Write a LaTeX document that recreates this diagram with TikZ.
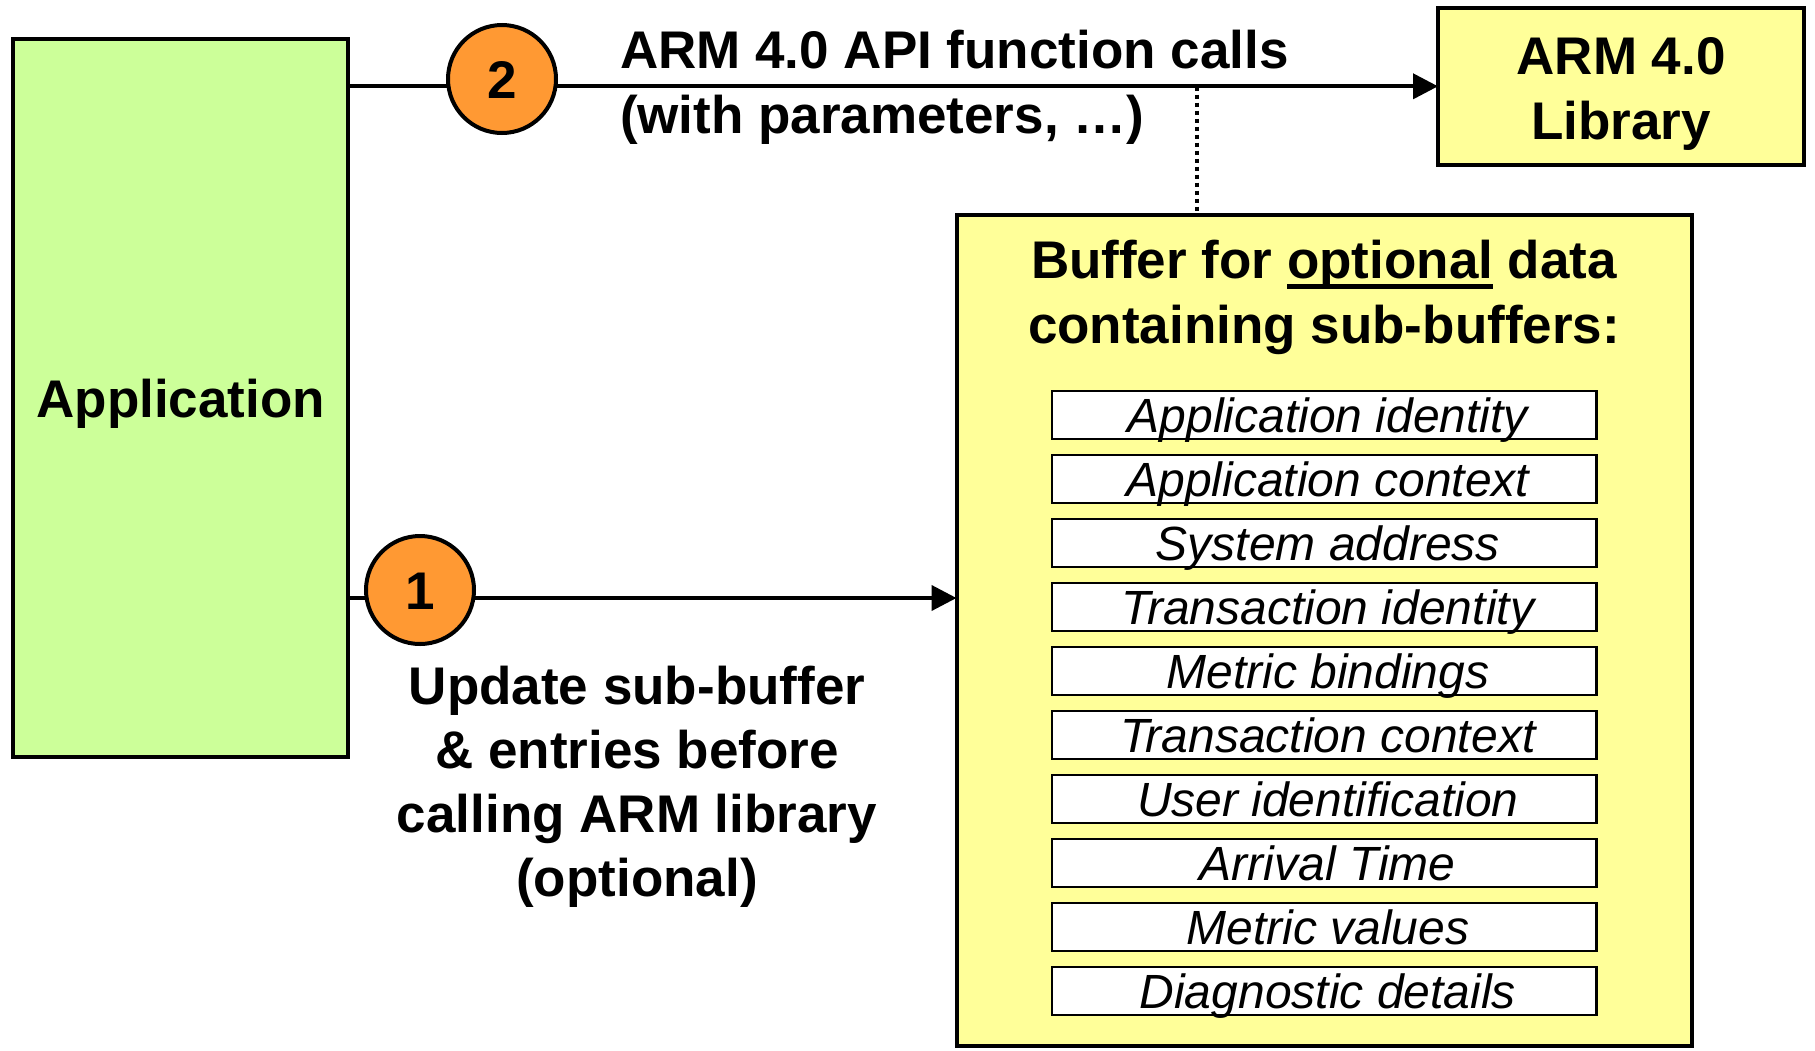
\documentclass[tikz,border=0pt]{standalone}
\usepackage{fontspec}
\setmainfont{Liberation Sans}
\usetikzlibrary{arrows.meta}
\definecolor{appgreen}{HTML}{CCFF99}
\definecolor{bufyellow}{HTML}{FFFF99}
\definecolor{steporange}{HTML}{FF9933}
% underline drawn as a rule just under the baseline
\newsavebox\ulbox
\newcommand\undl[1]{\sbox\ulbox{#1}\rlap{\rule[-0.2em]{\wd\ulbox}{0.08em}}\usebox\ulbox}
\begin{document}
\begin{tikzpicture}[x=0.5pt,y=-0.5pt,
  every node/.style={inner sep=0pt,outer sep=0pt},
  boldtext/.style={font=\fontsize{26.5pt}{32.5pt}\selectfont\bfseries},
  panel/.style={draw,rectangle,line width=2pt},
  subbuf/.style={draw,rectangle,line width=1.2pt,fill=white,
    minimum width=272.25pt,minimum height=24pt,
    font=\fontsize{24pt}{28pt}\selectfont\itshape,
    text height=17.2pt,text depth=0pt},
  badge/.style={draw,circle,line width=2pt,fill=steporange,minimum size=54pt,
    boldtext,text height=19pt,text depth=0pt},
  arr/.style={line width=2pt,-{Triangle[length=12.5pt,width=12.5pt]}},
  dotline/.style={line width=2pt,dash pattern=on 2pt off 2pt}]
\useasboundingbox (0,0) rectangle (1815,1050);

% main blocks
\node[panel,fill=appgreen,minimum width=167.3pt,minimum height=358.75pt,
  boldtext,text height=19pt,text depth=0pt] (app) at (180.7,398.2) {Application};
\node[panel,fill=bufyellow,minimum width=183pt,minimum height=78.35pt,
  boldtext,align=center] (lib) at (1621,86.3) {\rule{0pt}{26.5pt}ARM 4.0\\Library};
\node[panel,fill=bufyellow,minimum width=367.5pt,minimum height=415.5pt] (buf) at (1324,630.5) {};

% buffer heading
\node[boldtext,align=center] (buftitle) at (1324,297)
  {Buffer for \undl{optional} data\\containing sub-buffers:};

% sub-buffers
\foreach \txt [count=\i from 0] in {Application identity,Application context,
  System address,Transaction identity,Metric bindings,Transaction context,
  User identification,Arrival Time,Metric values,Diagnostic details}
  \node[subbuf] (sb\i) at (1324.25,415+64*\i) {\hspace*{3.5pt}\txt};

% connectors
\coordinate (upd) at (0,598);
\coordinate (tap) at (1197,86.5);
\draw[arr] (app.east |- lib.west) -- (lib.west);
\draw[arr] (app.east |- upd) -- (buf.west |- upd);
\draw[dotline] (tap) -- (tap |- buf.north);

% step markers
\node[badge] (n2) at (502,79) {2};
\node[badge] (n1) at (420,590) {1};

% labels
\node[boldtext,align=left,anchor=west] (apilbl) at (620,87)
  {ARM 4.0 API function calls\\(with parameters, …)};
\node[font=\fontsize{26.5pt}{32pt}\selectfont\bfseries,align=center] (updlbl) at (637,787)
  {Update sub-buffer\\\& entries before\\calling ARM library\\(optional)};
\end{tikzpicture}
\end{document}
